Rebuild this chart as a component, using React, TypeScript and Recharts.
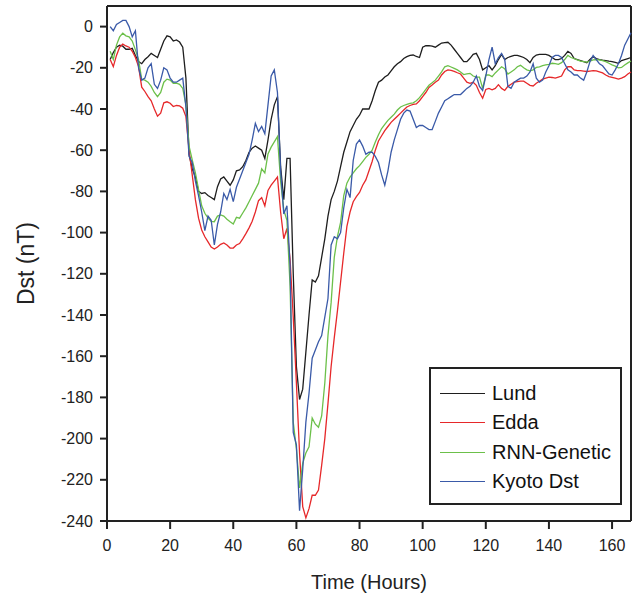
import React from 'react';
import { LineChart, Line, XAxis, YAxis, ReferenceLine, Legend, Label } from 'recharts';

// hours since start of the storm interval
const hours = Array.from({ length: 166 }, (_, i) => i + 1);

const lund = [
  -16, -12.6, -10, -9, -9.5, -11, -11, -10.5, -14, -17,
  -18, -16, -14.6, -13, -14, -15, -11, -7, -4.5, -5,
  -7, -6.5, -7.5, -10, -25, -62, -69, -73, -80, -81,
  -80.6, -82, -83, -84, -77.7, -74, -73, -75, -77, -74.4,
  -70, -69.6, -68, -65, -61, -59, -58, -59, -60, -64,
  -55, -45, -38, -34, -68, -84, -64, -64, -120, -165,
  -181, -176, -158, -140, -123, -124, -121, -112, -103, -92,
  -84, -80, -75, -68, -61, -56, -51, -48, -45, -43,
  -40, -40, -40, -36, -31, -27, -26, -24.5, -23.5, -21.5,
  -19.5, -18, -17, -15.5, -14.6, -14, -13.8, -14.5, -15, -10,
  -9.3, -9.2, -9.5, -10, -9, -8, -7.8, -7.6, -9, -11,
  -13, -15, -17, -17, -15.4, -13.5, -13, -16, -21, -20,
  -19, -21, -19, -16, -13.5, -16, -15, -14.5, -14, -14,
  -14.5, -15, -16, -17.5, -15, -13.8, -13.5, -13.5, -13.5, -14,
  -15, -16, -16, -15.5, -14, -12, -13, -15.5, -16, -16.5,
  -17, -17.5, -16, -14.6, -15.5, -16, -16.3, -16.5, -16.8, -17,
  -17.4, -17.8, -16.5, -16, -15.5, -15,
];

const edda = [
  -16, -19.4, -14, -10, -8.5, -9.4, -10, -12, -15, -19.4,
  -29.4, -31.5, -34, -36, -40, -43.5, -42, -37, -36.5, -37.2,
  -38.8, -38.3, -38.5, -39.6, -43.7, -60, -72, -84, -93, -98.7,
  -102, -104.5, -107, -108, -107, -105.7, -105, -106, -107.5, -107.5,
  -106, -105.3, -103, -100.5, -97.7, -94.5, -90, -84.5, -83, -87,
  -79.5, -77, -75, -73, -90, -103, -98, -113, -141, -173,
  -207, -233, -238.5, -234, -227.5, -227.5, -225, -213, -200, -183,
  -165, -151, -138, -124, -110, -97, -90, -85, -82.5, -80.5,
  -77, -74.4, -70, -65.5, -60, -55.5, -53, -50.5, -48.5, -46.5,
  -45, -43.5, -42, -40.5, -39, -38.3, -37.8, -37.5, -36, -34,
  -32, -29.5, -28.3, -27, -26, -23.5, -21.8, -21, -21.3, -21.7,
  -22.4, -23, -25, -27, -27.5, -27, -28.5, -32, -34.8, -30.5,
  -30, -30.7, -30, -28.2, -30, -31, -29, -28, -27, -26.7,
  -26.5, -26.5, -27.5, -28.5, -28.8, -27.5, -26.5, -25.5, -25, -24.5,
  -24.7, -25, -24.5, -24, -21, -19.5, -19.5, -21, -21.4, -21.4,
  -21.6, -21.8, -21.6, -21.4, -21.5, -22, -22.5, -23.5, -24.3, -24.6,
  -25, -25.5, -25, -24.3, -23, -22,
];

const rnnGenetic = [
  -12, -16, -9, -5, -3.2, -4.5, -5, -7, -11.3, -16,
  -25.6, -26, -27, -29, -32, -34, -32, -27, -25.5, -26,
  -27.5, -27.5, -28, -30, -38, -58, -64.7, -71, -79, -87,
  -90.6, -93, -94.5, -94.7, -92, -91.4, -92, -93.5, -94.7, -95.8,
  -92.6, -93, -90.5, -88, -85, -82, -79, -76, -69, -71,
  -61.8, -58.5, -56, -53.4, -75, -89, -94, -126, -192, -205,
  -224, -212, -207, -204, -190, -193, -194.5, -189, -173, -150,
  -134, -112, -102, -95, -82, -76, -73, -71, -69, -67.5,
  -65.5, -63.5, -62, -60, -56, -52.5, -49.5, -47.5, -45.5, -44,
  -42.5, -40.5, -39, -38.3, -37.8, -37.3, -37, -36, -34.5, -32.5,
  -30.5, -28.5, -27.3, -26, -24, -22, -19.5, -19, -19.6, -20.3,
  -21, -22, -23.3, -23, -22.7, -24, -24.5, -24.5, -30, -23.5,
  -23.5, -24.3, -22.5, -21, -19.5, -20.5, -23, -22, -21, -19.5,
  -18.8, -20, -21, -21.5, -21, -19.8, -19.5, -19, -18.6, -18.3,
  -17.8, -18, -18.3, -17.5, -16, -14, -15, -15.5, -16.2, -16.8,
  -17, -17.2, -16.8, -16.2, -16, -16.2, -16.5, -17, -17.8, -18.6,
  -19.2, -20, -19.8, -18.6, -17.6, -16.7,
];

const kyotoDst = [
  0, -2, 1, 2, 3, 3, 0, -5, -2, -20,
  -26, -25, -20, -18, -28, -30, -26, -20, -21, -25,
  -27, -27, -26, -25, -39, -63, -66, -75, -82, -90,
  -99, -92, -94, -106, -96, -90, -81, -84, -79, -85,
  -78, -74, -70, -66, -62, -55, -47, -51, -48.5, -52,
  -38, -24, -21, -32, -70, -91, -87, -116, -197, -203,
  -235, -215, -192, -178, -161, -157, -153, -150, -141, -132,
  -106, -102, -103, -100, -88, -79, -83, -65, -57, -55,
  -58, -62, -61, -61, -63, -66, -72, -77, -70, -61,
  -55, -50, -45, -42, -40.5, -41, -45, -49, -48, -48,
  -49, -50, -50, -46, -42, -39, -36, -35, -34, -33,
  -33, -33, -31.5, -30, -29, -27, -24, -29, -31, -24,
  -16, -10, -18, -15, -13, -16, -29, -30, -27, -26,
  -25, -25, -24, -22, -18, -25, -27, -26, -22, -19,
  -15, -14, -14, -15, -18, -21, -22, -23.5, -23.5, -25,
  -26, -22, -17, -14, -16, -18, -19, -21, -23, -23.5,
  -21, -18, -14, -9, -6, -3,
];

const xTicks = [0, 20, 40, 60, 80, 100, 120, 140, 160];
const yTicks = [0, -20, -40, -60, -80, -100, -120, -140, -160, -180, -200, -220, -240];

const series = [
  { key: 'lund', name: 'Lund', color: '#1e1e1e' },
  { key: 'edda', name: 'Edda', color: '#e6282a' },
  { key: 'rnn', name: 'RNN-Genetic', color: '#6cc04a' },
  { key: 'kyoto', name: 'Kyoto Dst', color: '#3a5aa8' },
];

const data = hours.map((h, i) => ({
  hour: h,
  lund: lund[i],
  edda: edda[i],
  rnn: rnnGenetic[i],
  kyoto: kyotoDst[i],
}));

const FONT = "'Liberation Sans', Arial, Helvetica, sans-serif";
const INK = '#222';

const LegendBox = () => (
  <div
    style={{
      boxSizing: 'border-box',
      width: 193,
      height: 138,
      border: `2px solid ${INK}`,
      background: '#fff',
      padding: '10px 0 0 9px',
      fontFamily: FONT,
      fontSize: 20,
      color: '#111',
      whiteSpace: 'nowrap',
    }}
  >
    {series.map((s) => (
      <div key={s.key} style={{ display: 'flex', alignItems: 'center', height: 29.3 }}>
        <span style={{ display: 'inline-block', width: 45, height: 0, borderTop: `1.5px solid ${s.color}`, marginRight: 7 }} />
        <span>{s.name}</span>
      </div>
    ))}
  </div>
);

const App: React.FC = () => {
  return (
    <div style={{ position: 'absolute', left: 0, top: 0, width: 644, height: 600, background: '#fff' }}>
      <LineChart width={644} height={600} data={data} margin={{ top: 6, right: 13, bottom: 49, left: 0 }}>
        <XAxis
          dataKey="hour"
          type="number"
          domain={[0, 166]}
          ticks={xTicks}
          height={30}
          tickSize={8}
          tickMargin={11}
          stroke={INK}
          strokeWidth={2}
          tick={{ fill: INK, fontSize: 16, fontFamily: FONT }}
        >
          <Label value="Time (Hours)" position="bottom" offset={24} style={{ fill: INK, fontSize: 20, fontFamily: FONT }} />
        </XAxis>
        <YAxis
          type="number"
          domain={[-240, 10]}
          ticks={yTicks}
          width={107}
          tickSize={7}
          tickMargin={7}
          stroke={INK}
          strokeWidth={2}
          tick={{ fill: INK, fontSize: 16, fontFamily: FONT }}
        >
          <Label
            value="Dst (nT)"
            angle={-90}
            position="insideLeft"
            offset={26}
            style={{ textAnchor: 'middle', fill: INK, fontSize: 23, fontFamily: FONT }}
          />
        </YAxis>
        <ReferenceLine y={10} stroke={INK} strokeWidth={2} />
        <ReferenceLine x={166} stroke={INK} strokeWidth={2} />
        {series.map((s) => (
          <Line
            key={s.key}
            type="linear"
            dataKey={s.key}
            name={s.name}
            stroke={s.color}
            strokeWidth={1.3}
            dot={false}
            isAnimationActive={false}
          />
        ))}
        <Legend
          layout="vertical"
          align="center"
          verticalAlign="middle"
          content={() => <LegendBox />}
          wrapperStyle={{ left: 429, top: 367, width: 193, height: 138 }}
        />
      </LineChart>
    </div>
  );
};

export default App;
